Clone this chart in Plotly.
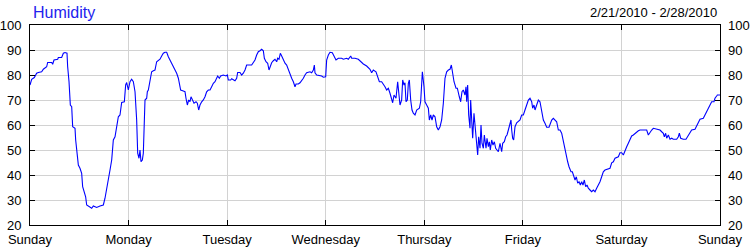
import pandas as pd
import plotly.graph_objects as go

title_text = "Humidity"
date_range_text = "2/21/2010 - 2/28/2010"
start_date = "2010-02-21"
day_labels = ["Sunday", "Monday", "Tuesday", "Wednesday", "Thursday", "Friday", "Saturday", "Sunday"]
y_ticks = [20, 30, 40, 50, 60, 70, 80, 90, 100]

# hours since start (Sunday 00:00)
hours = [
    0, 0.41, 1.05, 1.62, 2.03, 2.84, 3.25, 4.06, 4.30, 5.28, 5.52, 5.84, 6.74, 6.90, 7.71, 8.12, 8.52, 9.01, 9.17, 9.50,
    9.82, 10.15, 10.39, 10.96, 11.12, 11.52, 11.77, 12.17, 12.58, 12.82, 13.23, 13.55, 13.80, 14.37, 15.02, 15.42, 16.23,
    17.04, 17.86, 18.26, 18.67, 19.07, 19.48, 19.89, 20.29, 20.70, 21.10, 21.51, 21.91, 22.32, 22.97, 23.29, 23.54, 23.94,
    24.35, 24.75, 25.16, 25.57, 25.97, 26.22, 26.54, 26.78, 27.03, 27.35, 27.59, 27.84,
    28.0, 28.41, 28.57, 28.81, 29.22, 29.62, 30.03, 30.43, 30.84, 31.25, 31.65, 32.06, 32.46, 32.87, 33.28, 33.68, 34.09,
    34.49, 34.90, 35.30, 35.71, 36.12, 36.52, 36.68, 37.33, 37.74, 37.98, 38.31, 38.63, 38.96, 39.20, 39.61, 39.93, 40.42,
    40.74, 41.07, 41.39, 41.80, 42.20, 42.61, 43.01, 43.42, 43.83, 44.23, 44.64, 45.04, 45.45, 45.69, 46.10, 46.42, 47.07,
    47.72, 48.05, 48.29, 48.86, 49.10, 49.91, 50.32, 50.56, 51.13, 51.54, 51.94, 52.35, 52.75, 53.97, 54.38,
    54.78, 55.19, 55.59, 56.0, 56.41, 56.81, 57.06, 57.46, 57.87, 58.19, 58.43, 58.84, 59.25, 59.65, 60.06, 60.30, 60.63,
    60.95, 61.28, 61.68, 62.09, 62.49, 62.90, 63.30, 63.71, 64.12, 64.52, 64.77, 65.33, 65.74, 66.15, 66.55, 66.96, 67.36,
    68.17, 68.58, 68.99, 69.23, 69.39, 69.80, 71.01, 71.42, 71.99, 72.23, 72.64, 73.04, 73.61, 74.10, 74.50, 75.07, 75.88,
    76.29, 77.10, 77.51, 78.08, 78.32, 79.13, 79.94, 80.59, 81.16, 81.97, 82.78,
    83.19, 83.59, 84.24, 84.57, 85.06, 85.62, 86.03, 86.43, 86.84, 87.25, 87.65, 88.06, 88.30, 88.63, 89.11, 89.52, 89.76,
    90.09, 90.49, 90.74, 91.06, 91.30, 91.55, 91.87, 92.12, 92.36, 92.69, 93.01, 93.33, 93.74, 94.15, 94.80, 95.12, 95.53,
    95.93, 96.17, 96.58, 96.99, 97.23, 97.56, 97.88, 98.20, 98.61, 99.02, 99.42, 99.83, 100.23, 100.64, 101.04, 101.45,
    101.86, 102.26, 102.59, 102.91, 103.24, 103.72, 104.05, 104.53, 104.86, 105.18, 105.51, 105.91, 106.16, 106.32, 106.56,
    106.81, 107.13, 107.29, 107.62, 107.78, 108.10, 108.43, 108.76, 109.00, 109.24, 109.57, 109.81, 110.05, 110.38, 110.62,
    111.03, 111.27, 111.60, 111.84, 112.08, 112.41, 112.73, 113.06, 113.38, 113.71, 114.03, 114.44, 114.84, 115.09, 115.49,
    115.82, 116.14, 116.47, 116.87, 117.11, 117.28, 117.52, 117.76, 118.09, 118.50, 118.90, 119.31, 119.71, 120.12, 120.52,
    120.93, 121.34, 121.74, 122.15, 122.39, 122.71, 122.96, 123.36, 123.77, 124.17, 124.58, 124.99, 125.39, 125.80, 126.37,
    126.69, 127.02, 127.42, 127.83, 128.23, 128.64, 129.04, 129.45, 129.86, 130.26, 130.51, 130.91, 131.24, 131.72, 132.05,
    132.37, 132.70, 133.02, 133.35, 133.67, 134.00, 134.32, 134.64, 134.97, 135.29, 135.62, 135.94, 136.35, 136.75, 137.16,
    137.57, 137.97, 138.38, 138.78, 139.19, 139.59, 140.0,
    141.22, 141.63, 142.03, 142.44, 143.25, 143.65, 144.06, 144.47, 144.87, 145.28, 145.68, 146.09, 146.49, 146.90, 147.31,
    147.71, 148.12, 148.52, 150.15, 150.55, 150.96, 151.37, 151.77, 152.99, 153.39, 153.80, 154.20, 154.45, 154.77, 155.02,
    155.42, 155.83, 156.23, 156.64, 157.45, 157.86, 158.10, 158.43, 159.07, 159.72, 160.05, 160.53, 161.10, 161.91, 162.32,
    162.73, 163.13, 163.94, 164.35, 164.76, 165.16, 165.57, 165.97, 166.54, 166.78, 167.19, 167.35, 168.0,
]

humidity = [
    76, 78.3, 79, 80.7, 81, 81.3, 82.3, 83.3, 85, 85, 84.3, 86, 86.3, 87, 87, 88.7, 89, 88.7, 83.3, 77.3,
    68, 67.3, 59.3, 58.7, 54, 48.7, 44, 42.7, 40.7, 35.3, 32.7, 31.3, 28, 27.3, 26.7, 27.6, 27,
    27.6, 28, 30.7, 34, 38, 42, 46, 54, 55.3, 58.7, 63.3, 64, 69, 69.3, 76, 77, 74,
    77.3, 78.3, 77.3, 73.3, 62, 48.7, 46.7, 50, 45.3, 46, 48.7, 63.3,
    70, 70.7, 73.3, 74, 78.7, 81.3, 81.7, 82, 85.3, 86, 86.3, 87.6, 88.7, 89.1, 89.1, 87.3, 86,
    85, 83.3, 82, 80.7, 78.7, 76, 74, 73.6, 73.3, 70.7, 68, 70, 69.3, 71.3, 70, 68.7, 69.3,
    68.7, 66, 68, 69.3, 70, 71.3, 73.3, 74, 74, 75.3, 76.7, 77.3, 78.7, 79.6, 78.7, 79.6, 80,
    79.6, 80, 78, 78, 78.5, 77.7, 78.7, 81, 81, 80, 80.7, 82, 84, 84, 85,
    86, 88, 89.3, 89.7, 90.3, 89.7, 86.7, 85.3, 84.7, 82, 83.3, 84.9, 85.7, 86.3, 85.3, 86.7, 86.3,
    88.7, 87.6, 86, 84.7, 84, 82, 80.7, 78.7, 77.3, 75.3, 76.4, 76.4, 76.9, 77.7, 78.7, 80, 80.9,
    81.3, 80.9, 82, 84, 80.9, 80, 79.6, 79.1, 79.3, 86, 88, 89.1, 88.9, 87.6, 86, 86.7, 86.7,
    86.3, 86.7, 86.3, 87.6, 86.7, 86.7, 86.3, 85.3, 84.4, 83.6, 82.3,
    80.9, 82, 81.3, 80, 77.3, 77.3, 76.4, 75.3, 74, 74.7, 72.7, 70, 68.9, 72, 70.7, 77.3, 72,
    68, 70, 78, 76, 76.9, 69.3, 70, 76.7, 78, 70, 66, 64.7, 64, 66, 66.7, 69.3, 81.3,
    75.3, 69.3, 68, 66.7, 62, 64, 62, 64, 63.3, 59.3, 58, 59.3, 62, 68.7, 78.7, 81.3,
    82, 82.3, 84, 80, 77.3, 74.7, 74.7, 71.3, 69.3, 73.3, 74, 72, 75.3, 69.3, 76,
    64, 58.7, 70, 62, 54.7, 64.7, 58, 50.7, 48, 55.3, 50.7, 60, 52.7, 50.7, 56,
    50.7, 54.7, 51.3, 53.3, 50, 54, 52, 53.3, 50.7, 50, 49.3, 52.7, 49.3, 52.7, 53.3,
    55.3, 56, 58, 60, 62, 58, 54.7, 54, 59.3, 60.9, 61.3, 62, 64, 64, 66,
    68, 70, 70.7, 69.3, 66.7, 68, 66, 68, 70, 69.3, 65.3, 62, 60.7, 59.1, 59.1,
    60.7, 62, 62.7, 62, 61.3, 58, 58, 56.7, 53.3, 50, 47.3, 45.3, 43.3, 41.3, 41.3,
    40, 38, 39.3, 36.7, 37.3, 36, 37.3, 36, 38, 35.3, 36, 34.7, 34, 33.3, 34,
    33.3, 34.7, 36, 37.3, 39.3, 41.3, 42,
    42.7, 44.9, 45.3, 46.7, 47.3, 48.9, 48.9, 48, 50, 51.3, 52.7, 54, 55.6, 56, 56.7,
    57.3, 57.7, 58, 58, 56, 57.3, 58, 58.7, 58.3, 58, 57.3, 56.7, 55.3, 56.7, 54.7,
    56, 54.3, 54.7, 54.3, 54.3, 55.3, 56.7, 54.7, 54.3, 54.3, 55.3, 56.7, 58, 58.3, 59.6,
    61.3, 62.3, 62.7, 64, 65.3, 66.7, 67.6, 69.3, 69.3, 70.7, 71.6, 72, 72,
]

t0 = pd.Timestamp(start_date)
times = [t0 + pd.Timedelta(hours=h) for h in hours]
day_ticks = [t0 + pd.Timedelta(days=i) for i in range(len(day_labels))]

FONT = "Liberation Sans, Arial, sans-serif"

fig = go.Figure()
fig.add_trace(go.Scatter(x=times, y=humidity, mode="lines",
                         line=dict(color="#0000FF", width=1.1),
                         showlegend=False, hoverinfo="x+y"))
fig.add_trace(go.Scatter(x=[times[0]], y=[None], yaxis="y2", mode="lines",
                         showlegend=False, hoverinfo="skip"))

axis_common = dict(showline=True, linecolor="black", linewidth=1, mirror="ticks",
                   ticks="inside", ticklen=5, tickcolor="black", tickwidth=1,
                   showgrid=True, gridcolor="#D2D2D2", gridwidth=1, zeroline=False,
                   automargin=False,
                   tickfont=dict(family=FONT, size=13, color="black"))

fig.update_layout(
    width=750, height=250,
    margin=dict(l=30, r=30, t=25, b=25, pad=0),
    paper_bgcolor="white", plot_bgcolor="white",
    xaxis=dict(range=[day_ticks[0], day_ticks[-1]], tickvals=day_ticks, ticktext=day_labels,
               type="date", ticklabelstandoff=2, **axis_common),
    yaxis=dict(range=[20, 100], tickvals=y_ticks, ticklabelstandoff=5, **axis_common),
    yaxis2=dict(range=[20, 100], tickvals=y_ticks, overlaying="y", side="right",
                showgrid=False, showline=False, ticks="", zeroline=False, automargin=False,
                ticklabelstandoff=7,
                tickfont=dict(family=FONT, size=13, color="black")),
    annotations=[
        dict(text=title_text, xref="paper", yref="paper", x=0, y=1, xanchor="left", yanchor="middle",
             xshift=1, yshift=13, showarrow=False, font=dict(family=FONT, size=16, color="#2222EE")),
        dict(text=date_range_text, xref="paper", yref="paper", x=1, y=1, xanchor="right", yanchor="middle",
             xshift=-1, yshift=13, showarrow=False, font=dict(family=FONT, size=13, color="black")),
    ],
)

fig.write_html("out.html")
